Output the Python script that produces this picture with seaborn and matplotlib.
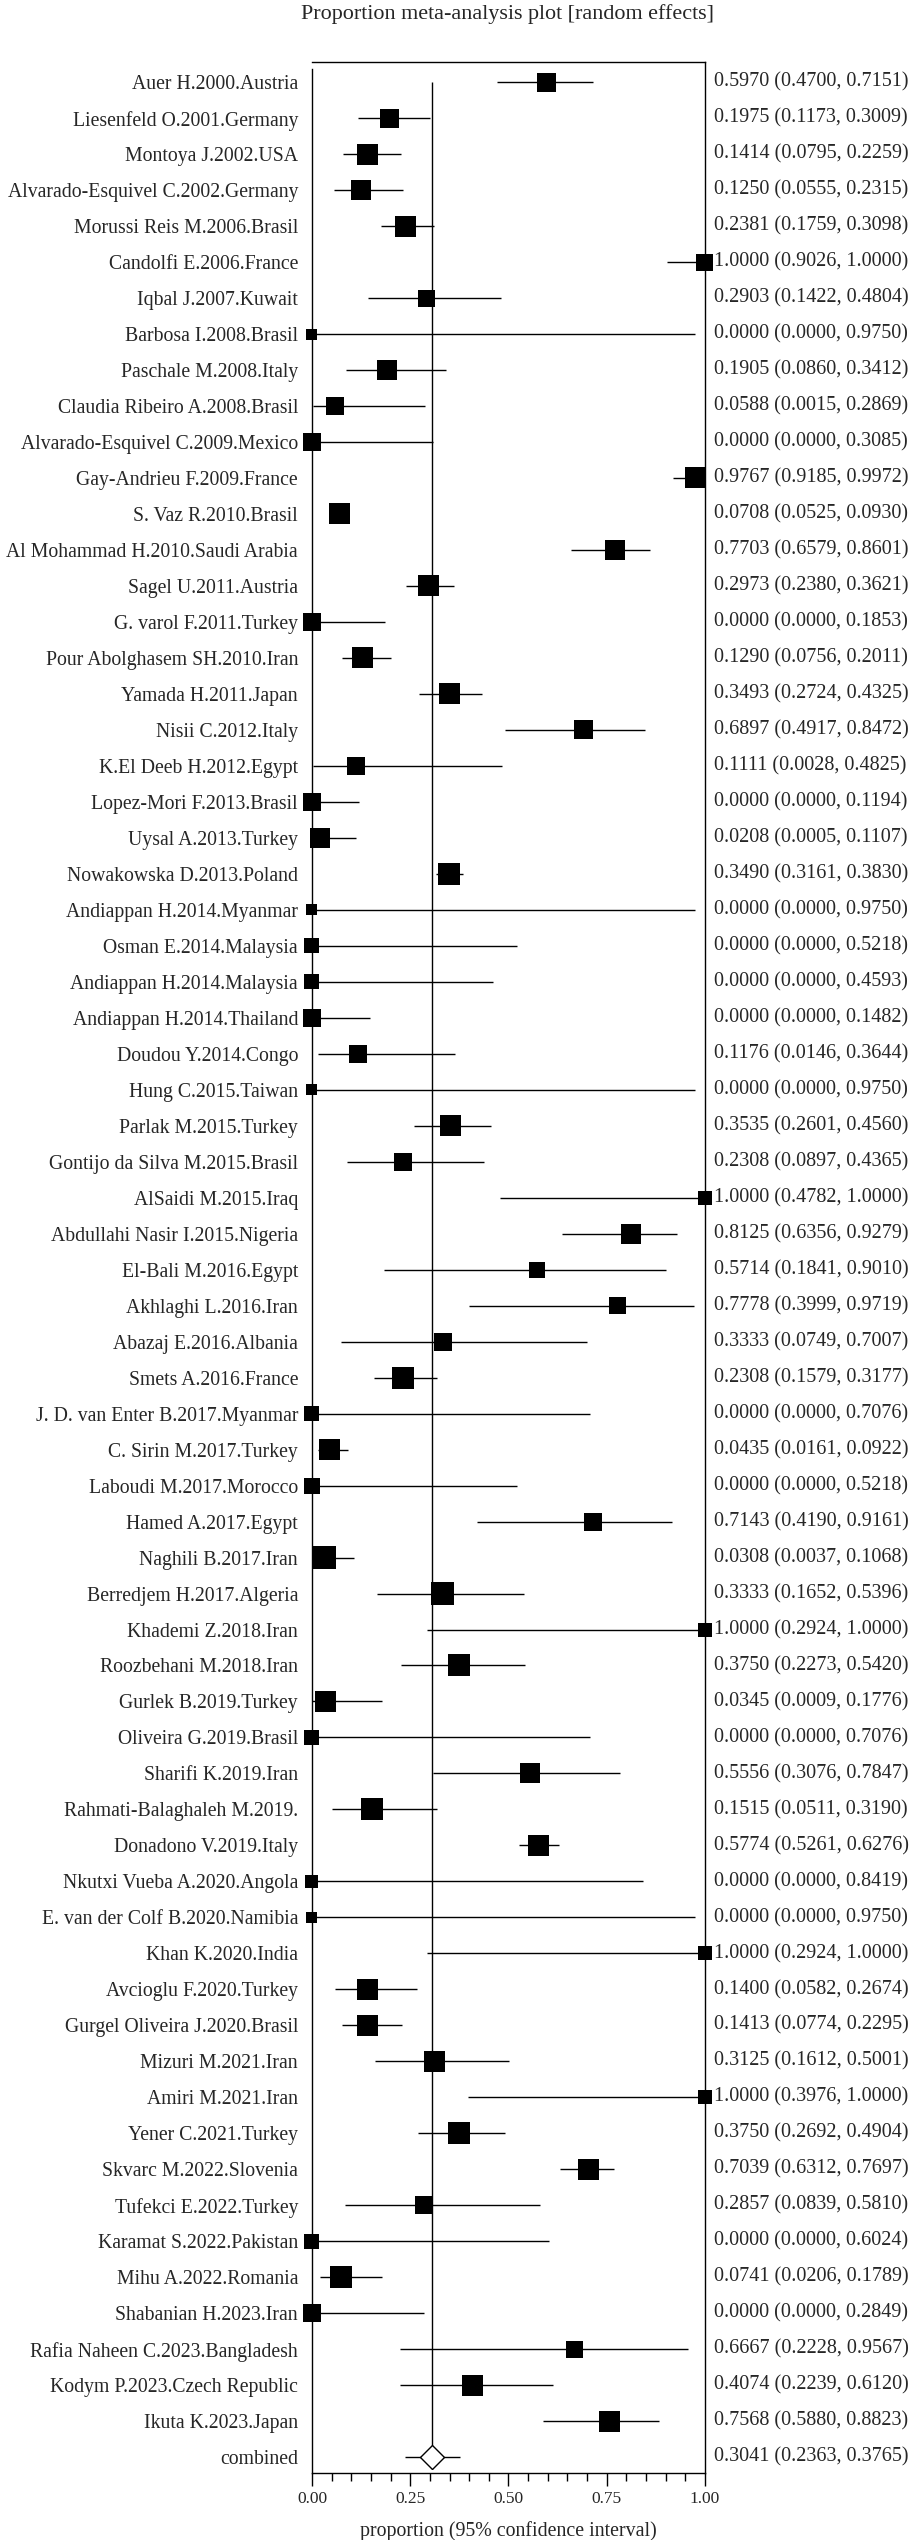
import numpy as np
import pandas as pd
import seaborn as sns
import matplotlib.pyplot as plt
import matplotlib.transforms as mtransforms

# Study labels, proportions, 95% CI and box size (px)
studies = [
    "Auer H.2000.Austria", "Liesenfeld O.2001.Germany", "Montoya J.2002.USA",
    "Alvarado-Esquivel C.2002.Germany", "Morussi Reis M.2006.Brasil", "Candolfi E.2006.France",
    "Iqbal J.2007.Kuwait", "Barbosa I.2008.Brasil", "Paschale M.2008.Italy",
    "Claudia Ribeiro A.2008.Brasil", "Alvarado-Esquivel C.2009.Mexico", "Gay-Andrieu F.2009.France",
    "S. Vaz R.2010.Brasil", "Al Mohammad H.2010.Saudi Arabia", "Sagel U.2011.Austria",
    "G. varol F.2011.Turkey", "Pour Abolghasem SH.2010.Iran", "Yamada H.2011.Japan",
    "Nisii C.2012.Italy", "K.El Deeb H.2012.Egypt", "Lopez-Mori F.2013.Brasil",
    "Uysal A.2013.Turkey", "Nowakowska D.2013.Poland", "Andiappan H.2014.Myanmar",
    "Osman E.2014.Malaysia", "Andiappan H.2014.Malaysia", "Andiappan H.2014.Thailand",
    "Doudou Y.2014.Congo", "Hung C.2015.Taiwan", "Parlak M.2015.Turkey",
    "Gontijo da Silva M.2015.Brasil", "AlSaidi M.2015.Iraq", "Abdullahi Nasir I.2015.Nigeria",
    "El-Bali M.2016.Egypt", "Akhlaghi L.2016.Iran", "Abazaj E.2016.Albania",
    "Smets A.2016.France", "J. D. van Enter B.2017.Myanmar", "C. Sirin M.2017.Turkey",
    "Laboudi M.2017.Morocco", "Hamed A.2017.Egypt", "Naghili B.2017.Iran",
    "Berredjem H.2017.Algeria", "Khademi Z.2018.Iran", "Roozbehani M.2018.Iran",
    "Gurlek B.2019.Turkey", "Oliveira G.2019.Brasil", "Sharifi K.2019.Iran",
    "Rahmati-Balaghaleh M.2019.", "Donadono V.2019.Italy", "Nkutxi Vueba A.2020.Angola",
    "E. van der Colf B.2020.Namibia", "Khan K.2020.India", "Avcioglu F.2020.Turkey",
    "Gurgel Oliveira J.2020.Brasil", "Mizuri M.2021.Iran", "Amiri M.2021.Iran",
    "Yener C.2021.Turkey", "Skvarc M.2022.Slovenia", "Tufekci E.2022.Turkey",
    "Karamat S.2022.Pakistan", "Mihu A.2022.Romania", "Shabanian H.2023.Iran",
    "Rafia Naheen C.2023.Bangladesh", "Kodym P.2023.Czech Republic", "Ikuta K.2023.Japan",
]
prop = [
    0.5970, 0.1975, 0.1414, 0.1250, 0.2381, 1.0000, 0.2903, 0.0000, 0.1905, 0.0588,
    0.0000, 0.9767, 0.0708, 0.7703, 0.2973, 0.0000, 0.1290, 0.3493, 0.6897, 0.1111,
    0.0000, 0.0208, 0.3490, 0.0000, 0.0000, 0.0000, 0.0000, 0.1176, 0.0000, 0.3535,
    0.2308, 1.0000, 0.8125, 0.5714, 0.7778, 0.3333, 0.2308, 0.0000, 0.0435, 0.0000,
    0.7143, 0.0308, 0.3333, 1.0000, 0.3750, 0.0345, 0.0000, 0.5556, 0.1515, 0.5774,
    0.0000, 0.0000, 1.0000, 0.1400, 0.1413, 0.3125, 1.0000, 0.3750, 0.7039, 0.2857,
    0.0000, 0.0741, 0.0000, 0.6667, 0.4074, 0.7568,
]
lower = [
    0.4700, 0.1173, 0.0795, 0.0555, 0.1759, 0.9026, 0.1422, 0.0000, 0.0860, 0.0015,
    0.0000, 0.9185, 0.0525, 0.6579, 0.2380, 0.0000, 0.0756, 0.2724, 0.4917, 0.0028,
    0.0000, 0.0005, 0.3161, 0.0000, 0.0000, 0.0000, 0.0000, 0.0146, 0.0000, 0.2601,
    0.0897, 0.4782, 0.6356, 0.1841, 0.3999, 0.0749, 0.1579, 0.0000, 0.0161, 0.0000,
    0.4190, 0.0037, 0.1652, 0.2924, 0.2273, 0.0009, 0.0000, 0.3076, 0.0511, 0.5261,
    0.0000, 0.0000, 0.2924, 0.0582, 0.0774, 0.1612, 0.3976, 0.2692, 0.6312, 0.0839,
    0.0000, 0.0206, 0.0000, 0.2228, 0.2239, 0.5880,
]
upper = [
    0.7151, 0.3009, 0.2259, 0.2315, 0.3098, 1.0000, 0.4804, 0.9750, 0.3412, 0.2869,
    0.3085, 0.9972, 0.0930, 0.8601, 0.3621, 0.1853, 0.2011, 0.4325, 0.8472, 0.4825,
    0.1194, 0.1107, 0.3830, 0.9750, 0.5218, 0.4593, 0.1482, 0.3644, 0.9750, 0.4560,
    0.4365, 1.0000, 0.9279, 0.9010, 0.9719, 0.7007, 0.3177, 0.7076, 0.0922, 0.5218,
    0.9161, 0.1068, 0.5396, 1.0000, 0.5420, 0.1776, 0.7076, 0.7847, 0.3190, 0.6276,
    0.8419, 0.9750, 1.0000, 0.2674, 0.2295, 0.5001, 1.0000, 0.4904, 0.7697, 0.5810,
    0.6024, 0.1789, 0.2849, 0.9567, 0.6120, 0.8823,
]
box_px = [
    19, 19, 21, 20, 21, 17, 17, 11, 20, 18, 18, 21, 21, 20, 21, 18, 21, 21, 19, 18,
    18, 20, 22, 11, 15, 15, 18, 18, 11, 21, 18, 14, 20, 16, 17, 18, 22, 15, 21, 16,
    18, 23, 23, 14, 22, 21, 15, 20, 22, 21, 13, 11, 14, 21, 21, 21, 14, 22, 21, 18,
    15, 22, 18, 17, 21, 21,
]
combined_label = "combined"
combined = [0.3041, 0.2363, 0.3765]

DPI = 100
px2pt = 72 / DPI

df = pd.DataFrame({"study": studies, "prop": prop, "lo": lower, "hi": upper, "box": box_px})
df["row"] = np.arange(len(df))
df["area"] = (df["box"] * px2pt) ** 2
comb_row = len(df)

sns.set_style("white")
plt.rcParams["font.family"] = ["Liberation Serif", "DejaVu Serif"]

fig = plt.figure(figsize=(9.12, 25.4), dpi=DPI)
ax = fig.add_axes([312 / 912, 1 - 2473 / 2540, 393 / 912, (2473 - 62) / 2540])

# confidence intervals
ax.hlines(df["row"], df["lo"], df["hi"], color="black", linewidth=1.0, clip_on=False)
ax.hlines(comb_row, combined[1], combined[2], color="black", linewidth=1.0)

# reference line at pooled estimate
ax.vlines(combined[0], 0, comb_row + 0.33, color="black", linewidth=1.0)

# study boxes
amin, amax = df["area"].min(), df["area"].max()
sns.scatterplot(data=df, x="prop", y="row", size="area", sizes=(amin, amax),
                size_norm=(amin, amax), marker="s", color="black", linewidth=0,
                legend=False, clip_on=False, ax=ax, zorder=3)

# pooled diamond
ax.plot([combined[0]], [comb_row], marker="D", markersize=16.3 * px2pt,
        markerfacecolor="white", markeredgecolor="black", markeredgewidth=1.0,
        linestyle="none", zorder=4)

ax.set_xlim(0, 1)
ax.set_ylim(comb_row + 0.44, -0.56)
ax.set_ylabel("")

ax.set_yticks(list(df["row"]) + [comb_row])
ax.set_yticklabels(studies + [combined_label])
ax.tick_params(axis="y", length=0, pad=10, labelsize=14.2)
for t in ax.get_yticklabels():
    t.set_fontsize(14.2)

ax.set_xticks([0, 0.25, 0.5, 0.75, 1.0])
ax.set_xticklabels(["0.00", "0.25", "0.50", "0.75", "1.00"])
ax.set_xticks(np.arange(0, 1.0001, 0.05), minor=True)
ax.tick_params(axis="x", which="major", direction="out", length=9, width=1.0,
               color="black", pad=4, bottom=True, labelsize=12.5)
ax.tick_params(axis="x", which="minor", direction="out", length=6, width=1.0,
               color="black", bottom=True)
ax.set_xlabel("proportion (95% confidence interval)", fontsize=14.3, labelpad=10)

for s in ax.spines.values():
    s.set_color("black")
    s.set_linewidth(1.0)
ax.spines["left"].set_bounds(comb_row + 0.44, -0.36)

# right-hand estimate column
trans = mtransforms.blended_transform_factory(ax.transAxes, ax.transData)
right_rows = list(zip(prop, lower, upper)) + [tuple(combined)]
for i, (p, l, h) in enumerate(right_rows):
    ax.text(1.023, i, f"{p:.4f} ({l:.4f}, {h:.4f})", transform=trans,
            ha="left", va="center", fontsize=14.5)

fig.text(508 / 912, 1 - 14 / 2540, "Proportion meta-analysis plot [random effects]",
         ha="center", va="center", fontsize=15.9)

fig.savefig("out.png", dpi=DPI)
